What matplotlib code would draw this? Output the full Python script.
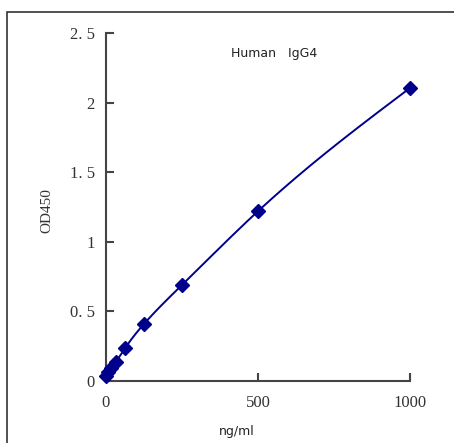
import numpy as np
import matplotlib.pyplot as plt
from matplotlib.patches import Rectangle

# standard curve, Human IgG4
conc = [0, 7.8, 15.6, 31.25, 62.5, 125, 250, 500, 1000]
od450 = [0.036, 0.065, 0.095, 0.137, 0.235, 0.41, 0.69, 1.22, 2.105]

x_ticks = [0, 500, 1000]
y_ticks = [0, 0.5, 1, 1.5, 2, 2.5]
y_labels = ["0", "0. 5", "1", "1. 5", "2", "2. 5"]


def spline(xs, ys, n=400):
    # natural cubic spline through the points (smoothed line)
    xs = np.asarray(xs, float)
    ys = np.asarray(ys, float)
    k = len(xs)
    h = np.diff(xs)
    A = np.zeros((k, k))
    b = np.zeros(k)
    A[0, 0] = A[-1, -1] = 1
    for i in range(1, k - 1):
        A[i, i - 1] = h[i - 1]
        A[i, i] = 2 * (h[i - 1] + h[i])
        A[i, i + 1] = h[i]
        b[i] = 6 * ((ys[i + 1] - ys[i]) / h[i] - (ys[i] - ys[i - 1]) / h[i - 1])
    m = np.linalg.solve(A, b)
    xx = np.linspace(xs[0], xs[-1], n)
    idx = np.clip(np.searchsorted(xs, xx) - 1, 0, k - 2)
    x0, x1 = xs[idx], xs[idx + 1]
    hh = x1 - x0
    a = (x1 - xx) / hh
    c = (xx - x0) / hh
    yy = (a * ys[idx] + c * ys[idx + 1]
          + ((a ** 3 - a) * m[idx] + (c ** 3 - c) * m[idx + 1]) * hh ** 2 / 6)
    return xx, yy


fig = plt.figure(figsize=(4.54, 4.43), dpi=100)
fig.patches.append(Rectangle((7 / 454, -0.1), 1.2, 1 - 12 / 443 + 0.1,
                             transform=fig.transFigure, fill=False,
                             edgecolor="#333333", linewidth=1.2))

ax = fig.add_axes([106 / 454, 62 / 443, 304 / 454, 348 / 443])
cx, cy = spline(conc, od450)
ax.plot(cx, cy, color="#00008B", linewidth=1.4, zorder=2)
ax.plot(conc, od450, linestyle="none", marker="D", markersize=7,
        color="#00008B", zorder=3, clip_on=False)

ax.set_xlim(0, 1000)
ax.set_ylim(0, 2.5)
for s in ("top", "right"):
    ax.spines[s].set_visible(False)
for s in ("left", "bottom"):
    ax.spines[s].set_color("#444444")
    ax.spines[s].set_linewidth(1.5)

ax.set_xticks(x_ticks)
ax.set_yticks(y_ticks)
ax.set_yticklabels(y_labels)
ax.tick_params(direction="in", length=6, width=1.5, color="#444444",
               labelsize=12, labelcolor="#333333")
ax.tick_params(axis="y", pad=8)
ax.tick_params(axis="x", pad=10)
for lab in ax.get_xticklabels() + ax.get_yticklabels():
    lab.set_family("Liberation Serif")

ax.set_ylabel("OD450", family="Liberation Serif", fontsize=11,
              color="#333333")
ax.yaxis.set_label_coords(-0.174, 0.491)
ax.set_xlabel("ng/ml", fontsize=9, color="#222222")
ax.xaxis.set_label_coords(0.43, -0.125)
ax.text(0.553, 0.94, "Human   IgG4", transform=ax.transAxes, fontsize=9,
        color="#222222", ha="center", va="center")

fig.savefig("out.png", dpi=100)
